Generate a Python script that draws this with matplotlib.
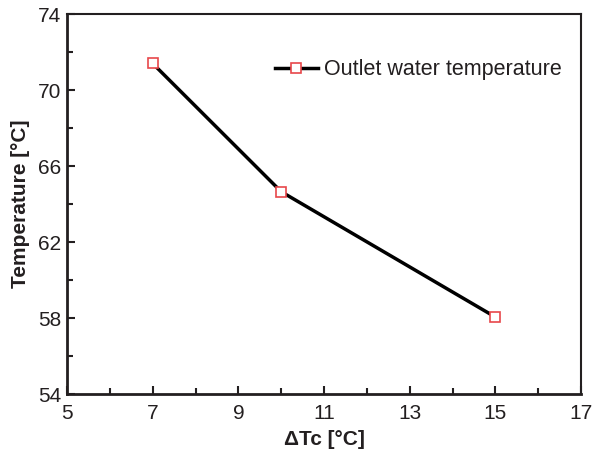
import numpy as np
import matplotlib.pyplot as plt
from matplotlib.ticker import MultipleLocator

plt.rcParams['font.family'] = ['Liberation Sans', 'DejaVu Sans']

dtc = [7, 10, 15]
temp = [71.4, 64.65, 58.05]
xticks = [5, 7, 9, 11, 13, 15, 17]
yticks = [54, 58, 62, 66, 70, 74]

txt = '#231f20'

fig = plt.figure(figsize=(5.93, 4.54), dpi=100)
ax = fig.add_axes([0.113, 0.132, 0.867, 0.837])

ax.plot(dtc, temp, color='black', lw=2.5, marker='s', ms=7,
        mfc='white', mec='#e8474a', mew=1.2, label='Outlet water temperature')

ax.set_xlim(5, 17)
ax.set_ylim(54, 74)
ax.set_xticks(xticks)
ax.set_yticks(yticks)
ax.xaxis.set_minor_locator(MultipleLocator(1))
ax.yaxis.set_minor_locator(MultipleLocator(2))
ax.tick_params(which='both', direction='in', top=False, right=False,
               labelsize=15, width=1.5, labelcolor=txt, color=txt)
ax.tick_params(which='major', length=6)
ax.tick_params(which='minor', length=4)
ax.tick_params(axis='x', pad=7)
ax.tick_params(axis='y', pad=4)
for s in ['left', 'bottom']:
    ax.spines[s].set_linewidth(2)
    ax.spines[s].set_color(txt)
for s in ['top', 'right']:
    ax.spines[s].set_linewidth(1.5)
    ax.spines[s].set_color(txt)

ax.set_xlabel('ΔTc [°C]', fontsize=15, fontweight='bold', labelpad=5, color=txt)
ax.set_ylabel('Temperature [°C]', fontsize=15, fontweight='bold', labelpad=6, color=txt)

ax.legend(loc='center right', bbox_to_anchor=(1.0, 0.853), frameon=False,
          fontsize=15.5, handlelength=2.0, handletextpad=0.3, labelcolor=txt)

fig.savefig('out.png', dpi=100)
